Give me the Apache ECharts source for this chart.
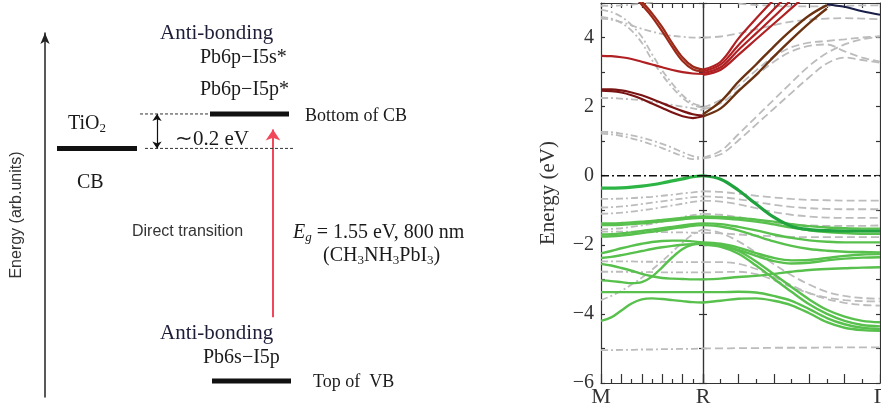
<!DOCTYPE html>
<html>
<head>
<meta charset="utf-8">
<script src="https://cdn.jsdelivr.net/npm/echarts@6/dist/echarts.min.js"></script>
<style>
  html, body { margin: 0; padding: 0; background: #fff; }
  #chart { width: 881px; height: 410px; }
</style>
</head>
<body>
<div id="chart"></div>
<script>
// ---------- data ----------
// sample points along each k-path segment: 10 steps from M to R, 10 from R to Γ
const kSteps = [0, 1, 2, 3, 4, 5, 6, 7, 8, 9, 10];
const pathLabels = ['M', 'R', 'Γ'];

// energy level scheme (eV, measured from the top of the valence band)
const levelNames = ['TiO2 CB', 'Bottom of CB', 'Top of VB'];
const bandGap = 1.55;
const tio2Offset = 0.2;
const levelEnergies = [bandGap - tio2Offset, bandGap, 0];

// ---- M → R ----
const mrRed = [
  [null, null, 5.70, 5.38, 5.04, 4.70, 4.30, 3.83, 3.42, 3.16, 3.07],
  [null, null, 5.63, 5.30, 4.95, 4.60, 4.18, 3.72, 3.32, 3.08, 3.02],
  [3.47, 3.46, 3.43, 3.38, 3.30, 3.22, 3.14, 3.06, 3.00, 2.96, 2.95]
];
const mrDarkRed = [
  [2.50, 2.50, 2.47, 2.41, 2.33, 2.22, 2.10, 1.98, 1.87, 1.78, 1.74],
  [2.46, 2.45, 2.41, 2.33, 2.22, 2.09, 1.96, 1.83, 1.72, 1.67, 1.72]
];
const mrVbTop = [-0.36, -0.36, -0.35, -0.33, -0.30, -0.26, -0.21, -0.15, -0.09, -0.03, 0];
const mrGreen = [
  [-1.38, -1.38, -1.37, -1.35, -1.33, -1.31, -1.28, -1.25, -1.22, -1.19, -1.18],
  [-1.43, -1.43, -1.42, -1.40, -1.38, -1.35, -1.32, -1.29, -1.26, -1.23, -1.22],
  [-1.70, -1.69, -1.67, -1.64, -1.60, -1.56, -1.52, -1.48, -1.44, -1.40, -1.38],
  [-1.76, -1.75, -1.73, -1.70, -1.66, -1.62, -1.58, -1.53, -1.49, -1.45, -1.43],
  [-2.25, -2.18, -2.10, -2.03, -1.97, -1.92, -1.89, -1.88, -1.88, -1.90, -1.93],
  [-2.38, -2.35, -2.30, -2.24, -2.18, -2.12, -2.07, -2.03, -2.00, -1.98, -1.97],
  [-2.55, -2.60, -2.67, -2.75, -2.84, -2.91, -2.96, -2.98, -2.99, -3.00, -3.00],
  [-3.03, -3.05, -3.08, -3.11, -3.08, -2.92, -2.65, -2.36, -2.12, -1.99, -1.95],
  [-3.37, -3.37, -3.37, -3.37, -3.37, -3.37, -3.37, -3.37, -3.37, -3.37, -3.37],
  [-4.20, -4.10, -3.90, -3.70, -3.58, -3.55, -3.57, -3.60, -3.63, -3.66, -3.67]
];
const mrGray = [
  [4.92, 4.92, 4.93, 4.95, 4.98, 5.02, 5.10, null, null, null, null],
  [4.55, 4.52, 4.45, 4.35, 4.25, 4.17, 4.10, 4.05, 4.02, 4.00, 4.00],
  [4.60, 4.55, 4.42, 4.20, 3.85, 3.35, 2.92, 2.55, 2.25, 2.05, 1.97],
  [4.80, 4.74, 4.60, 4.36, 4.02, 3.52, 3.05, 2.66, 2.33, 2.10, 2.00],
  [2.25, 2.25, 2.23, 2.21, 2.18, 2.14, 2.10, 2.05, 2.00, 1.95, 1.90],
  [1.27, 1.26, 1.22, 1.17, 1.10, 1.02, 0.92, 0.81, 0.68, 0.57, 0.52],
  [1.22, 1.20, 1.15, 1.08, 1.00, 0.90, 0.80, 0.68, 0.57, 0.48, 0.50],
  [-0.67, -0.67, -0.66, -0.65, -0.63, -0.61, -0.58, -0.55, -0.51, -0.48, -0.45],
  [-0.92, -0.91, -0.89, -0.86, -0.82, -0.78, -0.74, -0.70, -0.66, -0.62, -0.60],
  [-1.10, -1.09, -1.07, -1.04, -1.00, -0.96, -0.91, -0.86, -0.81, -0.76, -0.72],
  [-1.55, -1.54, -1.52, -1.48, -1.44, -1.39, -1.33, -1.27, -1.20, -1.14, -1.10],
  [-1.62, -1.62, -1.62, -1.62, -1.62, -1.63, -1.63, -1.64, -1.64, -1.65, -1.65],
  [-3.60, -3.48, -3.33, -3.15, -2.95, -2.72, -2.47, -2.20, -1.93, -1.70, -1.55],
  [-2.48, -2.48, -2.48, -2.48, -2.49, -2.49, -2.49, -2.50, -2.50, -2.50, -2.50],
  [-2.78, -2.78, -2.78, -2.79, -2.79, -2.79, -2.80, -2.80, -2.80, -2.80, -2.80],
  [-5.05, -5.05, -5.04, -5.04, -5.03, -5.03, -5.02, -5.02, -5.01, -5.01, -5.00]
];

// ---- R → Γ ----
const rgRed = [
  [3.07, 3.30, 3.97, 4.55, 5.10, 5.65, null, null, null, null, null],
  [3.02, 3.22, 3.78, 4.30, 4.82, 5.34, 5.86, null, null, null, null],
  [2.97, 3.14, 3.64, 4.12, 4.60, 5.10, 5.60, null, null, null, null],
  [2.92, 3.07, 3.50, 3.95, 4.40, 4.85, 5.30, null, null, null, null]
];
const rgBrown = [
  [1.78, 2.15, 2.72, 3.22, 3.74, 4.22, 4.64, 4.94, null, null, null],
  [1.72, 1.95, 2.45, 2.92, 3.45, 3.95, 4.42, 4.84, null, null, null]
];
const rgNavy = [null, null, null, null, null, null, null, 4.96, 4.89, 4.76, 4.66];
const rgVbTop = [0, -0.10, -0.42, -0.82, -1.20, -1.46, -1.56, -1.59, -1.60, -1.60, -1.60];
const rgGreen = [
  [-1.18, -1.19, -1.22, -1.27, -1.33, -1.40, -1.46, -1.50, -1.52, -1.53, -1.53],
  [-1.22, -1.23, -1.27, -1.33, -1.41, -1.50, -1.58, -1.63, -1.66, -1.68, -1.68],
  [-1.38, -1.40, -1.48, -1.58, -1.70, -1.80, -1.87, -1.91, -1.93, -1.93, -1.93],
  [-1.43, -1.47, -1.58, -1.74, -1.90, -2.03, -2.12, -2.17, -2.20, -2.21, -2.22],
  [-1.93, -1.97, -2.08, -2.24, -2.38, -2.45, -2.44, -2.38, -2.32, -2.28, -2.27],
  [-1.97, -2.02, -2.15, -2.32, -2.47, -2.54, -2.52, -2.45, -2.40, -2.37, -2.36],
  [-1.95, -2.00, -2.18, -2.48, -2.85, -3.22, -3.58, -3.88, -4.08, -4.20, -4.24],
  [-2.00, -2.06, -2.26, -2.60, -2.98, -3.36, -3.72, -4.00, -4.20, -4.32, -4.36],
  [-3.00, -2.98, -2.93, -2.90, -2.84, -2.78, -2.73, -2.70, -2.68, -2.66, -2.65],
  [-3.37, -3.37, -3.36, -3.38, -3.48, -3.62, -3.86, -4.12, -4.30, -4.40, -4.44],
  [-3.67, -3.62, -3.56, -3.55, -3.62, -3.75, -3.98, -4.24, -4.40, -4.47, -4.49]
];
const rgGray = [
  [null, null, 4.98, 4.94, 4.92, 4.90, 4.90, 4.91, 4.92, 4.93, 4.93],
  [4.00, 4.03, 4.12, 4.24, 4.36, 4.46, 4.52, 4.55, 4.56, 4.55, 4.53],
  [1.97, 2.20, 2.60, 3.05, 3.45, 3.72, 3.85, 3.90, 3.95, 4.00, 4.04],
  [1.92, 2.10, 2.48, 2.90, 3.30, 3.60, 3.76, 3.80, 3.60, 3.42, 3.30],
  [0.52, 0.72, 1.20, 1.70, 2.20, 2.70, 3.18, 3.55, 3.80, 3.95, 4.03],
  [0.50, 0.62, 1.02, 1.48, 1.94, 2.40, 2.85, 3.25, 3.42, 3.35, 3.27],
  [-0.45, -0.47, -0.52, -0.58, -0.63, -0.67, -0.70, -0.71, -0.72, -0.72, -0.72],
  [-0.60, -0.62, -0.68, -0.76, -0.84, -0.90, -0.94, -0.96, -0.97, -0.97, -0.97],
  [-0.72, -0.75, -0.83, -0.94, -1.05, -1.13, -1.18, -1.21, -1.22, -1.22, -1.22],
  [-1.10, -1.13, -1.20, -1.28, -1.36, -1.41, -1.44, -1.45, -1.45, -1.45, -1.44],
  [-1.65, -1.67, -1.70, -1.73, -1.75, -1.77, -1.78, -1.78, -1.78, -1.78, -1.78],
  [-1.55, -1.66, -1.90, -2.22, -2.56, -2.88, -3.15, -3.36, -3.48, -3.54, -3.56],
  [-2.50, -2.50, -2.55, -2.70, -2.93, -3.17, -3.40, -3.57, -3.68, -3.74, -3.76],
  [-2.80, -2.79, -2.78, -2.85, -3.02, -3.22, -3.40, -3.53, -3.60, -3.63, -3.64],
  [-5.00, -5.00, -4.99, -4.99, -4.98, -4.98, -4.98, -4.97, -4.97, -4.97, -4.97]
];

// ---------- layout & styles ----------
const serif = "'Liberation Serif', 'Times New Roman', serif";
const sans = "'Liberation Sans', Arial, sans-serif";
const ink = '#1a1a1a';
const axisStyle = { color: '#333', width: 1.2 };

const fixedGrid = { outerBoundsMode: 'none', containLabel: false };
const gridMR = Object.assign({ left: 601, top: 3, width: 102, height: 380 }, fixedGrid);
const gridRG = Object.assign({ left: 703, top: 3, width: 177, height: 380 }, fixedGrid);
const gridScheme = Object.assign({ left: 45, top: 33, width: 455, height: 364 }, fixedGrid);
const schemeRange = [-0.093, 2.02];   // arb. energy span of the schematic axis

const dashDot = [7, 3, 2, 3];
const dashed = [8, 4];

function bandSeries(values, seg, color, width, type, z) {
  const ax = seg === 0 ? 0 : 2;
  return {
    type: 'line', xAxisIndex: ax, yAxisIndex: ax,
    data: kSteps.map((k, i) => [k, values[i]]),
    symbol: 'none', smooth: 0.35, silent: true, clip: true,
    lineStyle: { color: color, width: width, type: type || 'solid' },
    z: z || 2
  };
}

const series = [];
mrGray.forEach(b => series.push(bandSeries(b, 0, '#bcbcbc', 1.8, dashDot, 1)));
rgGray.forEach(b => series.push(bandSeries(b, 1, '#bcbcbc', 1.8, dashed, 1)));
mrGreen.forEach(b => series.push(bandSeries(b, 0, '#58c04c', 2.4)));
rgGreen.forEach(b => series.push(bandSeries(b, 1, '#58c04c', 2.4)));
series.push(bandSeries(mrVbTop, 0, '#2cb544', 3.2, 'solid', 3));
series.push(bandSeries(rgVbTop, 1, '#20a23e', 3.2, 'solid', 3));
mrRed.forEach((b, i) => series.push(bandSeries(b, 0, i < 2 ? '#9c2818' : '#b01f22', 2.2)));
mrDarkRed.forEach(b => series.push(bandSeries(b, 0, '#7a1414', 2.2)));
rgRed.forEach(b => series.push(bandSeries(b, 1, '#b01f22', 2.2)));
rgBrown.forEach(b => series.push(bandSeries(b, 1, '#6b3212', 2.4)));
series.push(bandSeries(rgNavy, 1, '#1a1f4a', 2));

// valence band maximum reference line
[0, 1].forEach(seg => series.push({
  type: 'line', xAxisIndex: seg * 2, yAxisIndex: seg * 2,
  data: [[kSteps[0], 0], [kSteps[kSteps.length - 1], 0]],
  symbol: 'none', silent: true,
  lineStyle: { color: '#111', width: 1.3, type: [8, 3, 2, 3] }, z: 4
}));

// ---- level scheme (left) ----
const [eTiO2, eCB, eVB] = levelEnergies;
const levelSpans = [[57, 137], [210, 289], [212, 291]];
levelEnergies.forEach((e, i) => series.push({
  type: 'line', xAxisIndex: 4, yAxisIndex: 4,
  data: [[levelSpans[i][0], e], [levelSpans[i][1], e]],
  symbol: 'none', silent: true,
  lineStyle: { color: '#111', width: 5 }
}));
// dashed guides marking the CB offset
[[[140, 210], eCB], [[145, 295], eTiO2]].forEach(([span, e]) => series.push({
  type: 'line', xAxisIndex: 4, yAxisIndex: 4,
  data: [[span[0], e], [span[1], e]],
  symbol: 'none', silent: true,
  lineStyle: { color: '#333', width: 1, type: [3, 2] }
}));
// offset double arrow and the optical transition arrow
series.push({
  type: 'lines', coordinateSystem: 'cartesian2d', xAxisIndex: 4, yAxisIndex: 4,
  symbol: ['arrow', 'arrow'], symbolSize: 7, silent: true,
  lineStyle: { color: '#111', width: 1.2, opacity: 1 },
  data: [{ coords: [[157, eTiO2], [157, eCB]] }]
});
series.push({
  type: 'lines', coordinateSystem: 'cartesian2d', xAxisIndex: 4, yAxisIndex: 4,
  symbol: ['none', 'arrow'], symbolSize: 11, silent: true,
  lineStyle: { color: '#f0485a', width: 2, opacity: 1 },
  data: [{ coords: [[273, eVB + 0.37], [273, eCB - 0.09]] }]
});

const segTick = { inside: true, length: 9, lineStyle: axisStyle };
const pathLabelStyle = { fontFamily: serif, fontSize: 22, color: '#333', margin: 3 };
function kAxis(grid, pos, labelFn) {
  const bottom = pos === 'bottom';
  return {
    gridIndex: grid, type: 'value', position: pos,
    min: kSteps[0], max: kSteps[kSteps.length - 1], interval: bottom ? 2 : 1,
    axisLine: { onZero: false, lineStyle: axisStyle },
    axisTick: bottom ? segTick : { inside: true, length: 5, lineStyle: axisStyle },
    minorTick: { show: bottom, splitNumber: 2, length: 4, lineStyle: axisStyle },
    splitLine: { show: false },
    axisLabel: bottom ? Object.assign({ formatter: labelFn }, pathLabelStyle) : { show: false }
  };
}
function eAxis(grid, pos, withLabels) {
  const ax = {
    gridIndex: grid, type: 'value', position: pos, min: -6, max: 5, interval: 1,
    axisLine: { onZero: false, lineStyle: axisStyle },
    axisTick: { inside: true, length: 4, lineStyle: axisStyle },
    splitLine: { show: false },
    axisLabel: withLabels ? {
      formatter: v => (v % 2 === 0 ? String(v).replace('-', '\u2212') : ''),
      fontFamily: serif, fontSize: 20, color: '#333', margin: 7
    } : { show: false }
  };
  if (withLabels) {
    Object.assign(ax, {
      name: 'Energy (eV)', nameLocation: 'middle', nameGap: 42,
      nameTextStyle: { fontFamily: serif, fontSize: 21, color: '#333' }
    });
  }
  return ax;
}

const txt = (text, x, y, size, extra) => ({
  type: 'text', x: x, y: y, silent: true,
  style: Object.assign({
    text: text, fontFamily: serif, fontSize: size, fill: ink,
    verticalAlign: 'middle', textVerticalAlign: 'middle',
    rich: {
      s: { fontFamily: serif, fontSize: 13, fill: ink, padding: [10, 0, 0, 0] },
      i: { fontFamily: serif, fontSize: size, fontStyle: 'italic', fill: ink },
      si: { fontFamily: serif, fontSize: 13, fontStyle: 'italic', fill: ink, padding: [10, 0, 0, 0] }
    }
  }, extra || {})
});

const option = {
  backgroundColor: '#fff',
  animation: false,
  grid: [gridMR, gridRG, gridScheme],
  xAxis: [
    kAxis(0, 'bottom', v => (v === 0 ? pathLabels[0] : v === 10 ? pathLabels[1] : '')),
    kAxis(0, 'top'),
    kAxis(1, 'bottom', v => (v === 10 ? pathLabels[2] : '')),
    kAxis(1, 'top'),
    { gridIndex: 2, type: 'value', min: 45, max: 500, show: false }
  ],
  yAxis: [
    eAxis(0, 'left', true),
    eAxis(0, 'right', false),
    eAxis(1, 'left', false),
    eAxis(1, 'right', false),
    {
      gridIndex: 2, type: 'value', position: 'left', min: schemeRange[0], max: schemeRange[1],
      axisLine: { show: true, onZero: false, symbol: ['none', 'arrow'], symbolSize: [7, 11],
        lineStyle: { color: '#222', width: 1.5 } },
      axisTick: { show: false }, axisLabel: { show: false }, splitLine: { show: false },
      name: 'Energy (arb.units)', nameLocation: 'middle', nameGap: 20,
      nameTextStyle: { fontFamily: sans, fontSize: 16, color: '#333' }
    }
  ],
  series: series,
  graphic: [
    txt('Anti-bonding', 160, 33, 21, { fill: '#1d1d38' }),
    txt('Pb6p\u2212I5s*', 200, 58, 20),
    txt('Pb6p\u2212I5p*', 200, 90, 20),
    txt('TiO{s|2}', 68, 124, 20),
    txt('CB', 77, 183, 20),
    txt('\u223C0.2 eV', 175, 139, 21),
    txt('Bottom of CB', 305, 116, 18),
    txt('Direct transition', 132, 232, 16, { fontFamily: sans, fill: '#333' }),
    txt('{i|E}{si|g} = 1.55 eV, 800 nm', 293, 233, 20),
    txt('(CH{s|3}NH{s|3}PbI{s|3})', 323, 256, 20),
    txt('Anti-bonding', 160, 333, 21, { fill: '#1d1d38' }),
    txt('Pb6s\u2212I5p', 203, 358, 20),
    txt('Top of  VB', 313, 382, 18)
  ]
};

const chart = echarts.init(document.getElementById('chart'), null, { renderer: 'canvas' });
chart.setOption(option);
</script>
</body>
</html>
